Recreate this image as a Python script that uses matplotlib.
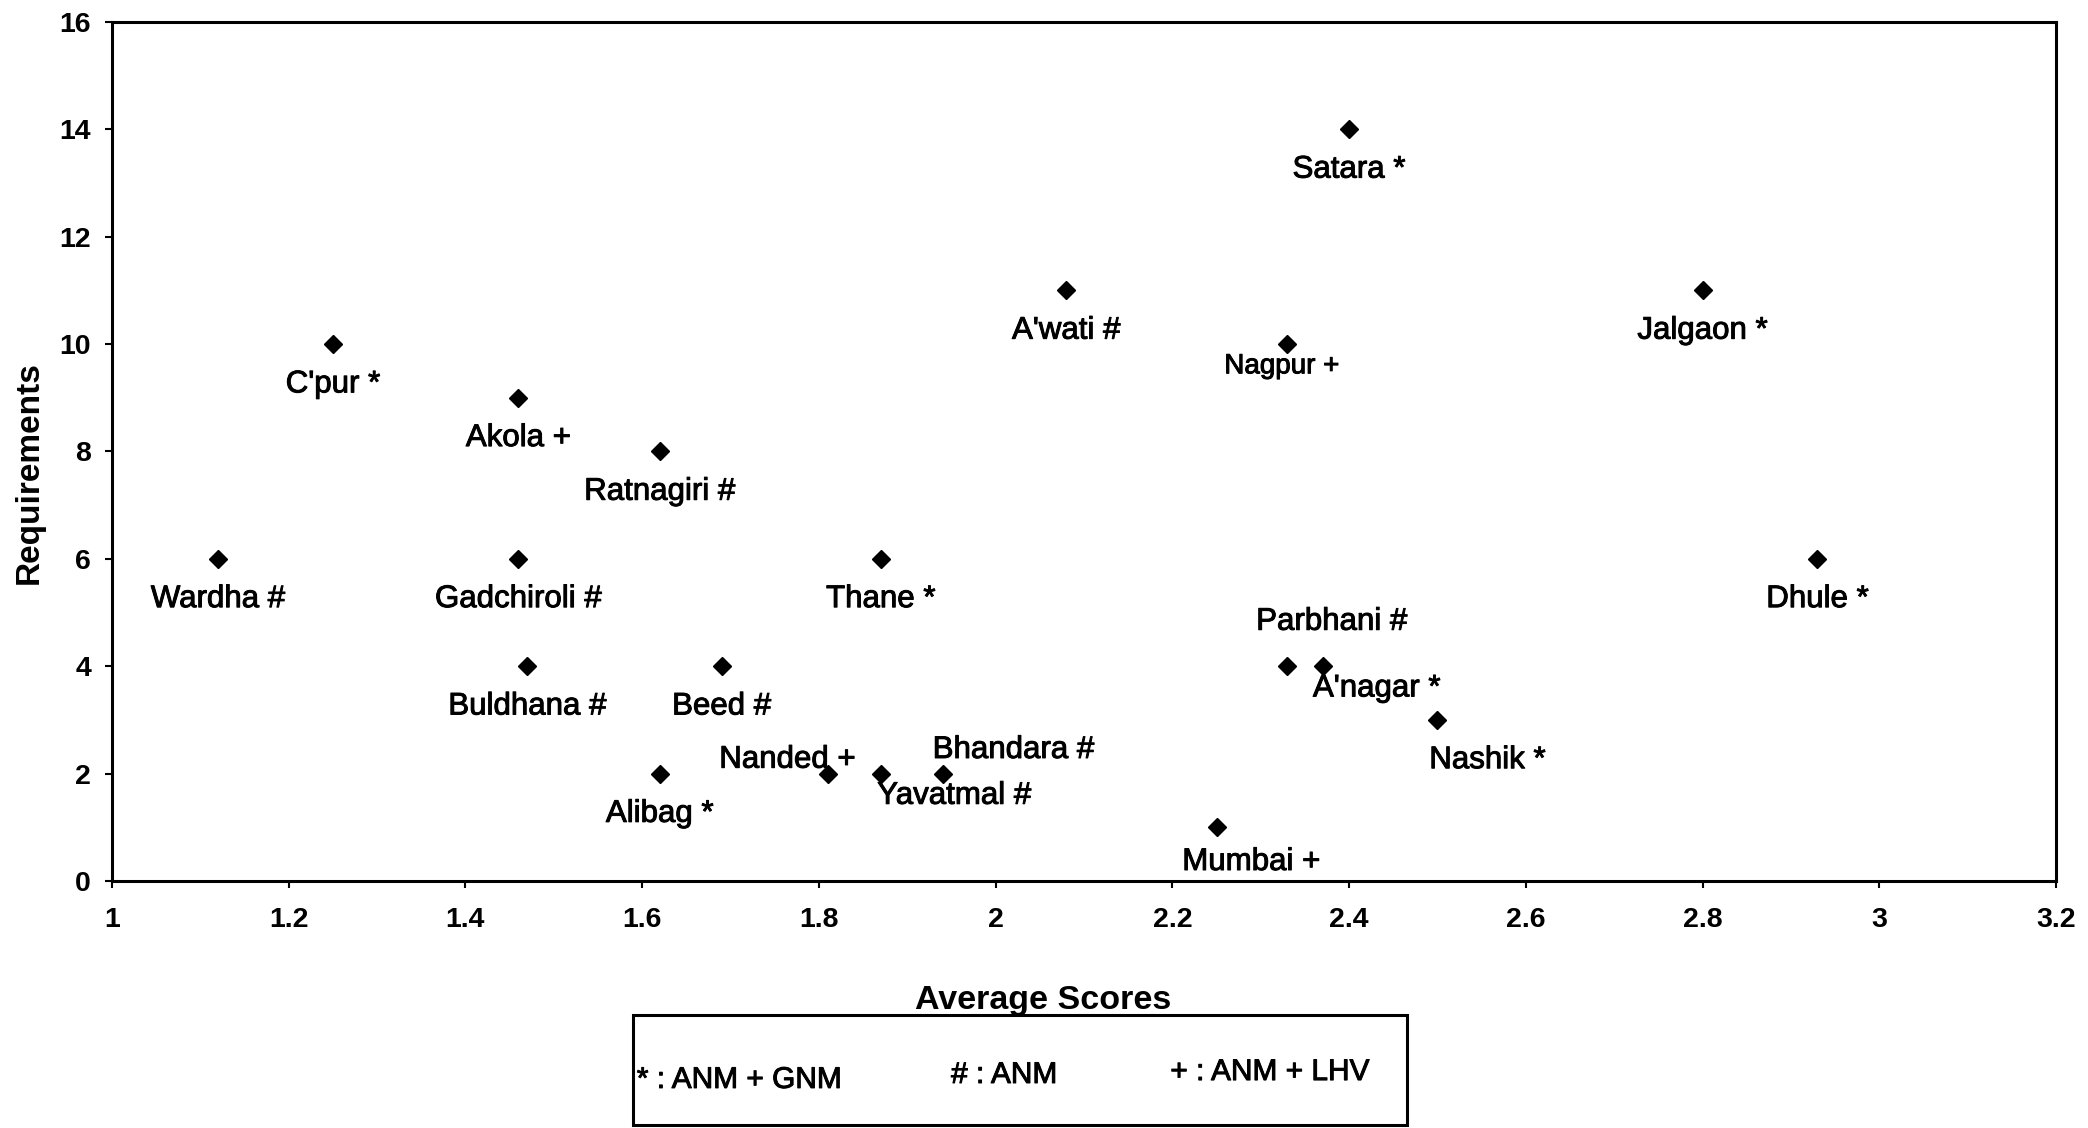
import matplotlib.pyplot as plt
import matplotlib.patheffects as pe
from matplotlib.patches import Rectangle

plt.rcParams['font.family'] = ['Liberation Sans', 'DejaVu Sans']

# district labels (suffix marks the staff category)
districts = ["Wardha #", "C'pur *", "Akola +", "Gadchiroli #", "Buldhana #",
             "Ratnagiri #", "Alibag *", "Beed #", "Nanded +", "Thane *",
             "Yavatmal #", "Bhandara #", "A'wati #", "Mumbai +", "Nagpur +",
             "Parbhani #", "A'nagar *", "Satara *", "Nashik *", "Jalgaon *",
             "Dhule *"]
avg_scores = [1.12, 1.25, 1.46, 1.46, 1.47, 1.62, 1.62, 1.69, 1.81, 1.87,
              1.87, 1.94, 2.08, 2.25, 2.33, 2.33, 2.37, 2.40, 2.50, 2.80,
              2.93]
requirements = [6, 10, 9, 6, 4, 8, 2, 4, 2, 6, 2, 2, 11, 1, 10, 4, 4, 14, 3,
                11, 6]

x_ticks = [1, 1.2, 1.4, 1.6, 1.8, 2, 2.2, 2.4, 2.6, 2.8, 3, 3.2]
x_tick_labels = ["1", "1.2", "1.4", "1.6", "1.8", "2", "2.2", "2.4", "2.6",
                 "2.8", "3", "3.2"]
y_ticks = [0, 2, 4, 6, 8, 10, 12, 14, 16]

legend_items = ["* : ANM + GNM", "# : ANM", "+ : ANM + LHV"]

# label placement, offset points from the marker
offsets = {
    "Nanded +": (-29, 10),
    "Yavatmal #": (53, -16),
    "Bhandara #": (51, 17),
    "Mumbai +": (25, -25),
    "Nagpur +": (-4, -16),
    "Parbhani #": (32, 32),
    "A'nagar *": (39, -16),
    "Nashik *": (36, -29),
}

# a thin stroke gives the heavier look of the printed original
ink = [pe.withStroke(linewidth=0.7, foreground='black')]

fig = plt.figure(figsize=(20.88, 11.28), dpi=100)
ax = fig.add_axes([0.0536, 0.219, 0.9311, 0.7615])

ax.plot(avg_scores, requirements, linestyle='none', marker='D',
        markersize=9.5, color='black')

for name, xv, yv in zip(districts, avg_scores, requirements):
    dx, dy = offsets.get(name, (0, -29))
    fs = 20 if name == "Nagpur +" else 22.5
    ax.annotate(name, (xv, yv), xytext=(dx, dy), textcoords='offset points',
                ha='center', va='center', fontsize=fs, color='black',
                path_effects=ink)

ax.set_xlim(1, 3.2)
ax.set_ylim(0, 16)
ax.set_xticks(x_ticks)
ax.set_xticklabels(x_tick_labels)
ax.set_yticks(y_ticks)
for lab in ax.get_xticklabels() + ax.get_yticklabels():
    lab.set_fontweight('bold')
ax.tick_params(axis='both', direction='out', length=5, width=1.5,
               labelsize=20.5, colors='black')
ax.tick_params(axis='x', pad=14)
ax.tick_params(axis='y', pad=10)
for sp in ax.spines.values():
    sp.set_linewidth(2.2)
    sp.set_color('black')

fig.text(0.4995, 0.1126, "Average Scores", ha='center', va='center',
         fontsize=24.5, fontweight='bold')
fig.text(0.0139, 0.5807, "Requirements", ha='center', va='center',
         rotation=90, fontsize=24, fontweight='bold')

# legend box below the plot
fig.patches.append(Rectangle((0.303, 0.003), 0.371, 0.097, fill=False,
                             lw=2.2, edgecolor='black',
                             transform=fig.transFigure))
leg_x = [0.3050, 0.4555, 0.5605]
leg_y = [0.0426, 0.0470, 0.0496]
for txt, lx, ly in zip(legend_items, leg_x, leg_y):
    fig.text(lx, ly, txt, ha='left', va='center', fontsize=21.5,
             path_effects=ink)

fig.savefig("out.png", dpi=100, facecolor='white')
